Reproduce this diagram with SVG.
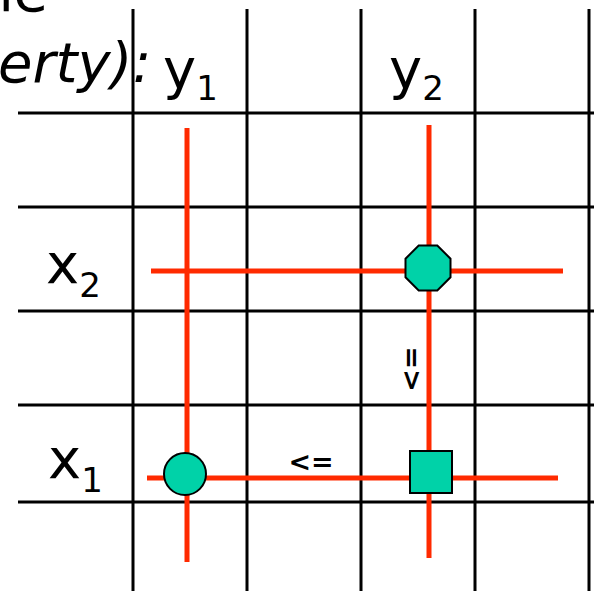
<svg xmlns="http://www.w3.org/2000/svg" width="594" height="591" viewBox="0 0 594 591">
<style>
.grid{stroke:#000;stroke-width:3;fill:none}
.red{stroke:#FF2A00;stroke-width:5;fill:none}
.shape{fill:#00D2A8;stroke:#000;stroke-width:2}
.lbl{font-family:"DejaVu Sans","Liberation Sans",sans-serif;fill:#000}
.op{font-family:"DejaVu Sans","Liberation Sans",sans-serif;font-weight:bold;font-size:27px;fill:#000}
</style>
<rect width="594" height="591" fill="#fff"/>
<g id="heading" class="lbl">
<text x="-22" y="11" font-size="56">ne</text>
<text x="-2" y="82" font-size="56" font-style="italic">erty):</text>
</g>
<g id="grid" class="grid">
<line x1="133" y1="9" x2="133" y2="591"/>
<line x1="247" y1="9" x2="247" y2="591"/>
<line x1="361" y1="9" x2="361" y2="591"/>
<line x1="475" y1="9" x2="475" y2="591"/>
<line x1="589" y1="9" x2="589" y2="591"/>
<line x1="18" y1="113" x2="594" y2="113"/>
<line x1="18" y1="207" x2="594" y2="207"/>
<line x1="18" y1="311" x2="594" y2="311"/>
<line x1="18" y1="405" x2="594" y2="405"/>
<line x1="18" y1="502" x2="594" y2="502"/>
</g>
<g id="labels" class="lbl">
<text x="163" y="88" font-size="56">y<tspan font-size="34" y="100">1</tspan></text>
<text x="389" y="88" font-size="56">y<tspan font-size="34" y="100">2</tspan></text>
<text x="46" y="283" font-size="56">x<tspan font-size="34" y="297">2</tspan></text>
<text x="48" y="478" font-size="56">x<tspan font-size="34" y="492">1</tspan></text>
</g>
<g id="connectors" class="red">
<line x1="187" y1="128" x2="187" y2="562"/>
<line x1="429" y1="125" x2="429" y2="558"/>
<line x1="151" y1="271" x2="563" y2="271"/>
<line x1="147" y1="478" x2="558" y2="478"/>
</g>
<g id="rel-le-h"><text class="op" x="311" y="471" text-anchor="middle">&lt;=</text></g>
<g id="rel-le-v"><text class="op" transform="translate(420,369) rotate(-90)" x="0" y="0" text-anchor="middle">&lt;=</text></g>
<g id="node-octagon"><polygon class="shape" points="418.7,245.5 437.3,245.5 450.5,258.7 450.5,277.3 437.3,290.5 418.7,290.5 405.5,277.3 405.5,258.7"/></g>
<g id="node-square"><rect class="shape" x="410" y="451" width="42" height="42"/></g>
<g id="node-circle"><circle class="shape" cx="185" cy="474" r="21"/></g>
</svg>
